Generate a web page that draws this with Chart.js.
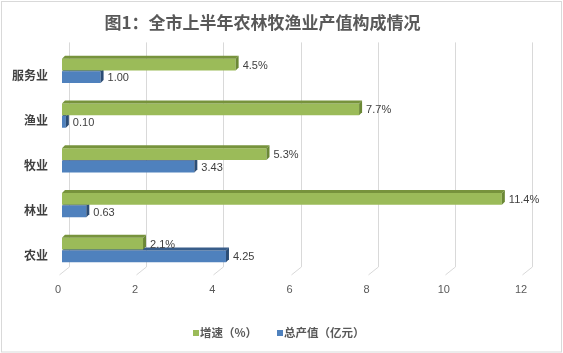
<!DOCTYPE html>
<html>
<head>
<meta charset="utf-8">
<script src="https://cdn.jsdelivr.net/npm/chart.js@4"></script>
<style>
  html, body { margin:0; padding:0; background:#fff; }
  #wrap { width:563px; height:353px; position:relative; }
</style>
</head>
<body>
<div id="wrap"><canvas id="chart"></canvas></div>
<script>
// data
const categories = ['服务业', '渔业', '牧业', '林业', '农业'];
const growthRate = [4.5, 7.7, 5.3, 11.4, 2.1];      // 增速（%）
const outputValue = [1.00, 0.10, 3.43, 0.63, 4.25];  // 总产值（亿元）
const seriesNames = ['增速（%）', '总产值（亿元）'];
const xMin = 0, xMax = 12, xStep = 2;

const CJK = '"Noto Sans CJK SC", "Noto Sans", sans-serif';
const LAT = '"Liberation Sans", "DejaVu Sans", sans-serif';

const faces = [
  { front:'#9BBB59', top:'#77933C', side:'#6B8836' },
  { front:'#4F81BD', top:'#385D8A', side:'#2C4D75' }
];
const DEPTH = 3;

// fake 3d: top and right faces after each dataset is drawn
const bar3d = {
  id:'bar3d',
  afterDatasetDraw(chart, args){
    const ctx = chart.ctx;
    const f = faces[args.index];
    ctx.save();
    args.meta.data.forEach(el => {
      const p = el.getProps(['x','y','base','height'], true);
      const top = p.y - p.height/2, bot = p.y + p.height/2;
      ctx.fillStyle = f.top;
      ctx.beginPath();
      ctx.moveTo(p.base, top);
      ctx.lineTo(p.base + DEPTH, top - DEPTH);
      ctx.lineTo(p.x + DEPTH, top - DEPTH);
      ctx.lineTo(p.x, top);
      ctx.closePath(); ctx.fill();
      ctx.fillStyle = f.side;
      ctx.beginPath();
      ctx.moveTo(p.x, top);
      ctx.lineTo(p.x + DEPTH, top - DEPTH);
      ctx.lineTo(p.x + DEPTH, bot - DEPTH);
      ctx.lineTo(p.x, bot);
      ctx.closePath(); ctx.fill();
    });
    ctx.restore();
  }
};

// back-wall gridlines with a floor slant
const backGrid = {
  id:'backGrid',
  beforeDatasetsDraw(chart){
    const ctx = chart.ctx, xs = chart.scales.x, ca = chart.chartArea;
    ctx.save();
    ctx.strokeStyle = '#D9D9D9';
    ctx.lineWidth = 1;
    xs.ticks.forEach(t => {
      const px = Math.round(xs.getPixelForValue(t.value)) + 0.5;
      ctx.beginPath();
      ctx.moveTo(px + 7, ca.top - 6);
      ctx.lineTo(px + 7, ca.bottom - 5.5);
      ctx.lineTo(px - 3, ca.bottom + 2.5);
      ctx.stroke();
    });
    ctx.restore();
  }
};

const valueLabels = {
  id:'valueLabels',
  afterDatasetsDraw(chart){
    const ctx = chart.ctx;
    ctx.save();
    ctx.font = '11px ' + LAT;
    ctx.fillStyle = '#404040';
    ctx.textBaseline = 'middle';
    chart.data.datasets.forEach((ds, i) => {
      chart.getDatasetMeta(i).data.forEach((el, j) => {
        const v = ds.data[j];
        const txt = i === 0 ? v.toFixed(1) + '%' : v.toFixed(2);
        ctx.fillText(txt, el.x + DEPTH + 4, el.y + 1);
      });
    });
    ctx.restore();
  }
};

const frameAndLegend = {
  id:'frameAndLegend',
  beforeDraw(chart){
    const ctx = chart.ctx;
    ctx.save();
    ctx.fillStyle = '#fff';
    ctx.fillRect(0, 0, chart.width, chart.height);
    ctx.strokeStyle = '#D9D9D9';
    ctx.strokeRect(1.5, 1.5, chart.width - 3, chart.height - 2.5);
    ctx.restore();
  },
  afterDraw(chart){
    const ctx = chart.ctx;
    const items = [
      { x:193, color:faces[0].front, text:seriesNames[0] },
      { x:277, color:faces[1].front, text:seriesNames[1] }
    ];
    ctx.save();
    ctx.font = 'bold 11.5px ' + CJK;
    ctx.textBaseline = 'middle';
    items.forEach(it => {
      ctx.fillStyle = it.color;
      ctx.fillRect(it.x, 330, 6, 6);
      ctx.fillStyle = '#595959';
      ctx.fillText(it.text, it.x + 7, 333);
    });
    ctx.restore();
  }
};

new Chart(document.getElementById('chart'), {
  type:'bar',
  data:{
    labels: categories,
    datasets:[
      { label:seriesNames[0], data:growthRate, backgroundColor:faces[0].front },
      { label:seriesNames[1], data:outputValue, backgroundColor:faces[1].front }
    ]
  },
  options:{
    indexAxis:'y',
    responsive:true,
    maintainAspectRatio:false,
    animation:false,
    categoryPercentage:0.56,
    barPercentage:0.94,
    layout:{ padding:{ top:0, right:38, bottom:0, left:0 } },
    plugins:{
      legend:{ display:false },
      tooltip:{ enabled:false },
      title:{
        display:true,
        text:'图1：全市上半年农林牧渔业产值构成情况',
        color:'#595959',
        font:{ family:CJK, size:17, weight:'bold' },
        padding:{ top:12, bottom:16 }
      }
    },
    scales:{
      x:{
        min:xMin, max:xMax,
        grid:{ display:false, drawTicks:false },
        border:{ display:false },
        ticks:{ stepSize:xStep, color:'#595959', padding:11, labelOffset:-4,
                font:{ family:LAT, size:11 } },
        afterFit(s){ s.height = 80.6; }
      },
      y:{
        grid:{ display:false, drawTicks:false },
        border:{ display:false },
        ticks:{ color:'#404040', padding:14, labelOffset:5,
                font:{ family:CJK, size:12, weight:'bold' } },
        afterFit(s){ s.width = 62; }
      }
    }
  },
  plugins:[frameAndLegend, backGrid, bar3d, valueLabels]
});
</script>
</body>
</html>
